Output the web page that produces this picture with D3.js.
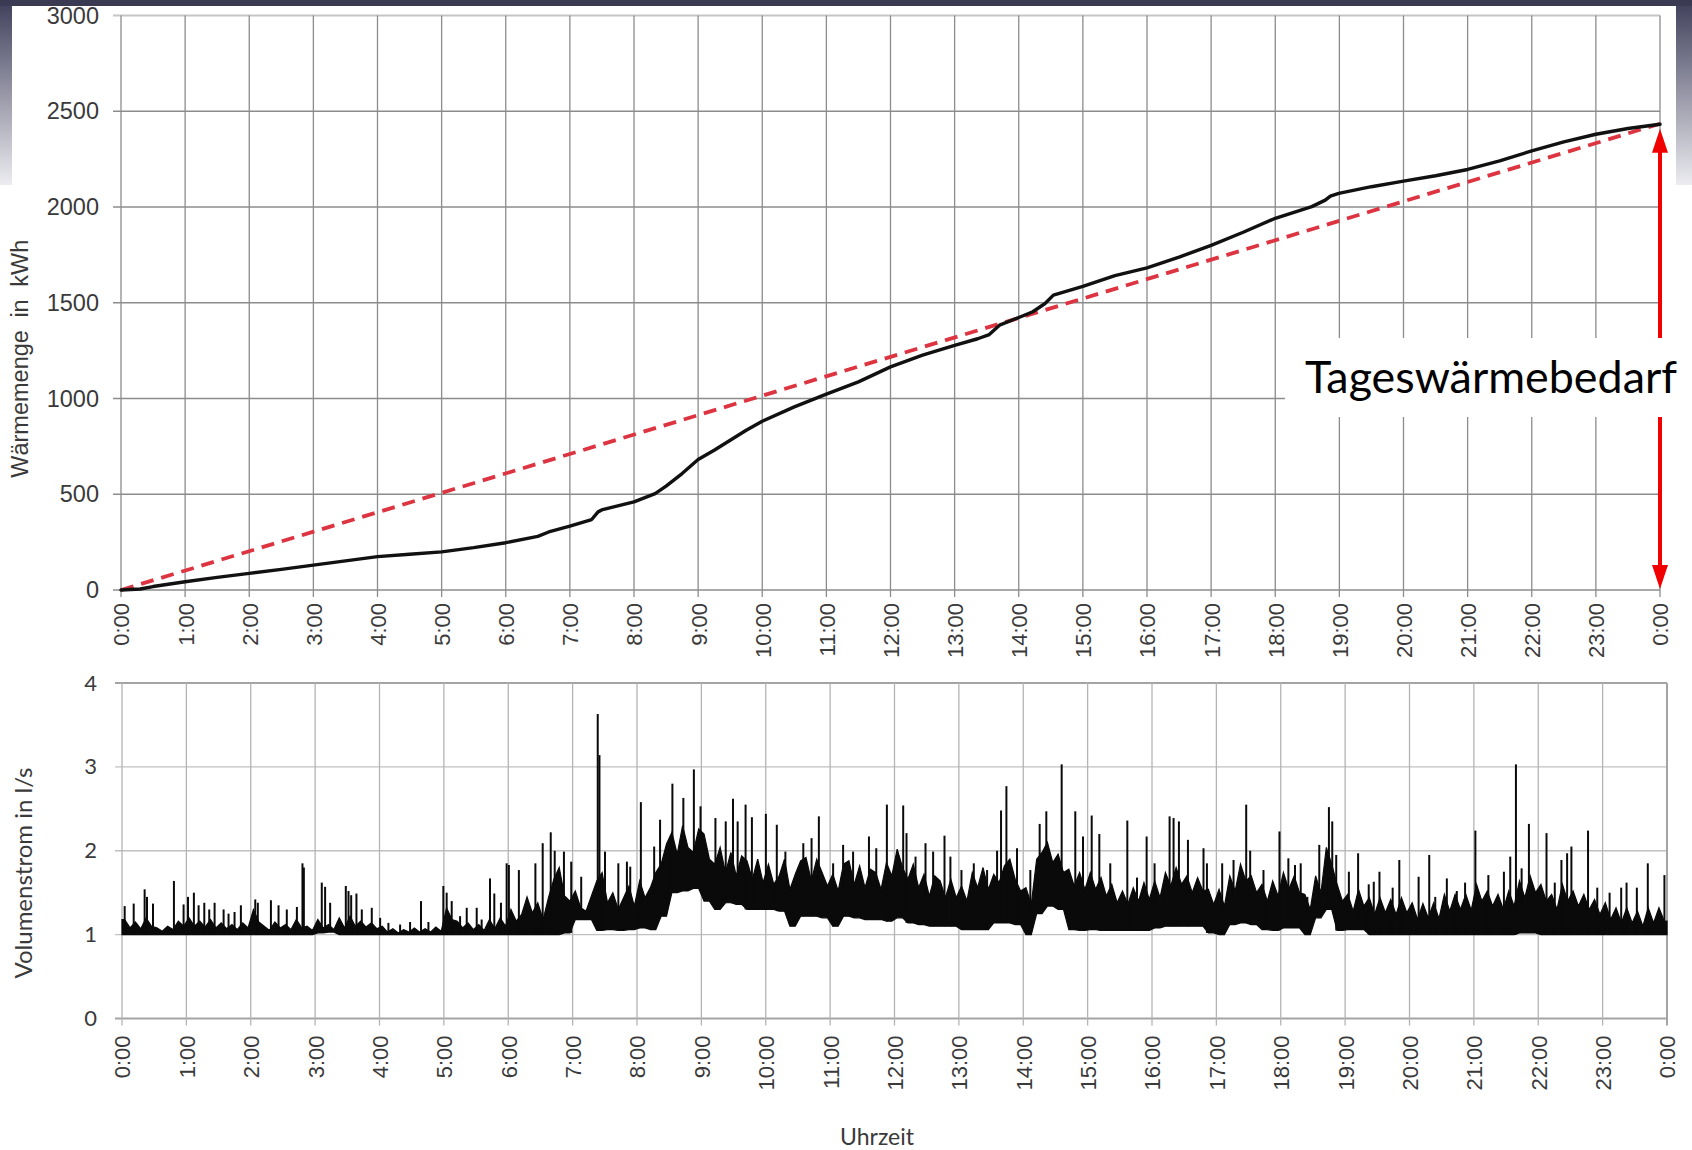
<!DOCTYPE html>
<html>
<head>
<meta charset="utf-8">
<script src="https://cdn.jsdelivr.net/npm/d3@7"></script>
<style>
  body { margin: 0; background: #fff; }
  svg { display: block; }
</style>
</head>
<body>
<svg id="chart" width="1692" height="1150"></svg>
<script>
// ---- Tick labels ----
const hourTicks = [0,1,2,3,4,5,6,7,8,9,10,11,12,13,14,15,16,17,18,19,20,21,22,23,24];
const hourLabels = ["0:00","1:00","2:00","3:00","4:00","5:00","6:00","7:00","8:00","9:00","10:00","11:00","12:00",
  "13:00","14:00","15:00","16:00","17:00","18:00","19:00","20:00","21:00","22:00","23:00","0:00"];
const heatTicks = [0,500,1000,1500,2000,2500,3000];
const heatLabels = ["0","500","1000","1500","2000","2500","3000"];
const flowTicks = [0,1,2,3,4];
const flowLabels = ["0","1","2","3","4"];

// ---- Cumulative heat quantity over the day (kWh) ----
const heatHours = [0,0.3,0.5,1,1.5,2,2.5,3,3.5,4,4.5,5,5.5,6,6.5,6.67,7,7.34,7.44,7.51,8,8.33,8.5,8.75,9,9.25,9.5,9.75,
  10,10.5,11,11.5,12,12.5,13,13.36,13.54,13.7,14.03,14.22,14.41,14.54,15,15.5,16,16.5,17,17.5,18,18.57,18.78,18.86,18.99,
  19.5,20,20.5,21,21.5,22,22.5,23,23.5,24];
const heatKWh = [0,5,18,43,66,87,108,130,152,174,187,199,221,247,280,303,333,368,408,420,460,503,542,608,681,730,782,834,
  881,956,1023,1087,1165,1226,1277,1312,1334,1383,1427,1453,1496,1540,1586,1642,1682,1738,1800,1868,1941,2002,2036,2057,2071,
  2106,2135,2163,2196,2241,2293,2340,2380,2410,2432];
// daily heat demand, spread evenly over 24 h
const dailyDemand = 2435;

// ---- Volume flow in l/s ----
// lower edge of the dense band, 10-minute bins
const flowMin = [
  1,1,1,1,1,1,1,1,1,1,1,1,
  1,1,1,1,1,1,1.02,1.03,1,1,1,1,
  1,1,1,1,1,1,1,1,1,1,1,1,
  1,1,1,1,1,1.02,1.18,1.18,1.05,1.06,1.05,1.06,
  1.08,1.06,1.22,1.5,1.52,1.55,1.4,1.3,1.38,1.36,1.3,1.3,
  1.3,1.28,1.1,1.22,1.22,1.2,1.1,1.22,1.2,1.18,1.18,1.16,
  1.2,1.14,1.12,1.1,1.1,1.1,1.06,1.06,1.06,1.14,1.14,1.12,
  1,1.25,1.34,1.3,1.06,1.05,1.06,1.05,1.05,1.05,1.05,1.05,
  1.08,1.1,1.1,1.1,1.1,1.02,1,1.12,1.14,1.12,1.06,1.05,
  1.08,1.08,1,1.2,1.3,1.05,1.06,1.06,1,1,1,1,
  1,1,1,1,1,1,1,1,1,1,1.02,1.02,
  1,1,1,1,1,1,1,1,1,1,1,1];
// upper edge of the dense band, 5-minute bins (one row per hour)
const flowUpper = [
  1.18,1.08,1.15,1.07,1.20,1.10,1.08,1.04,1.10,1.06,1.16,1.10,
  1.20,1.10,1.16,1.09,1.18,1.08,1.14,1.07,1.12,1.06,1.14,1.08,
  1.30,1.15,1.10,1.05,1.15,1.08,1.12,1.06,1.18,1.08,1.10,1.05,
  1.18,1.08,1.12,1.06,1.20,1.08,1.22,1.10,1.16,1.09,1.14,1.07,
  1.10,1.03,1.07,1.02,1.06,1.03,1.08,1.03,1.07,1.03,1.09,1.04,
  1.32,1.18,1.16,1.08,1.14,1.06,1.12,1.05,1.18,1.07,1.20,1.10,
  1.30,1.16,1.24,1.45,1.26,1.38,1.18,1.44,1.66,1.80,1.46,1.40,
  1.52,1.32,1.28,1.46,1.64,1.74,1.38,1.50,1.30,1.44,1.58,1.34,
  1.64,1.44,1.56,1.74,1.84,2.08,2.22,1.96,2.30,2.04,1.98,2.26,
  2.20,1.90,1.84,2.04,1.74,1.98,1.70,1.94,1.88,1.66,1.90,1.62,
  1.84,1.60,1.70,1.90,1.54,1.72,1.88,1.92,1.64,1.90,1.74,1.58,
  1.72,1.52,1.84,1.88,1.60,1.82,1.56,1.78,1.74,1.54,1.86,1.70,
  2.02,1.80,1.66,1.84,1.56,1.72,1.46,1.70,1.64,1.44,1.66,1.44,
  1.58,1.40,1.74,1.56,1.80,1.54,1.72,1.62,1.82,1.90,1.66,1.52,
  1.56,1.36,1.90,1.98,2.10,1.86,1.96,1.74,1.78,1.58,1.74,1.54,
  1.74,1.54,1.68,1.46,1.60,1.38,1.52,1.36,1.56,1.40,1.62,1.42,
  1.64,1.44,1.74,1.58,1.80,1.60,1.70,1.50,1.68,1.52,1.54,1.36,
  1.54,1.34,1.70,1.52,1.84,1.64,1.70,1.50,1.60,1.40,1.64,1.46,
  1.74,1.54,1.70,1.50,1.48,1.30,1.70,1.50,2.04,1.84,1.60,1.40,
  1.48,1.28,1.54,1.34,1.44,1.24,1.44,1.26,1.42,1.24,1.44,1.26,
  1.38,1.18,1.37,1.20,1.38,1.19,1.48,1.28,1.48,1.30,1.48,1.29,
  1.60,1.40,1.52,1.34,1.48,1.30,1.52,1.34,1.64,1.44,1.70,1.50,
  1.60,1.40,1.48,1.30,1.60,1.40,1.52,1.34,1.48,1.30,1.42,1.24,
  1.38,1.18,1.32,1.14,1.32,1.14,1.28,1.10,1.32,1.14,1.32,1.16];

// ---- Flow peaks: minute of day and peak value (l/s) ----
const spikeMinute = [
  2.5,10.9,21.1,23.3,28.9,48.4,57.4,61.5,67,71.4,76.7,81.3,86.3,94.7,99.3,104.9,110.8,124.2,126.6,138.8,145.9,153.6,
  163,168.2,169.5,186.2,189.3,194,208.6,211.1,213.6,218.5,223.5,232.8,240.6,248.3,259.2,268.5,278.7,285.6,299.5,302.6,
  307.3,315.1,321.3,330.6,335.2,343,347,353.2,358.5,
  360.6,369.9,385.3,392.1,399.6,403.3,411.9,418.7,428,443.4,445,450.2,462.6,470.6,473.7,483.6,496,501.5,513,523.2,533,
  539.2,553.1,562.7,569.5,573.8,581.2,587.1,600.1,610.3,618.3,635,642.7,649.5,662.8,672.1,681.4,696.2,703,712.9,
  728.1,731.2,739.6,748.9,756,766.6,772.1,782.4,793.9,806.3,815.6,819.3,824.3,834.2,846.6,855.3,861.5,875.8,888.5,895.7,
  903.8,910.9,921.1,937,946,955,962.4,976.4,980.1,985.1,993.5,1008,1011.2,1025.4,1036,1047.8,1051.5,1063.9,1078.8,
  1087.1,1093.3,1098.6,1104.8,1115.9,1124.9,1128,1131.7,1143.5,1152.1,1162,1166.7,1172,1184.3,1190.5,1208.5,1218.4,
  1224,1234.8,1244.1,1251.8,1261.4,1273.5,1288,1293.9,1299.2,1304.5,1311.3,1327.7,1335.4,1341.6,1346.9,1350.9,1366.4,
  1375,1386.5,1397.3,1402.3,1411.9,1422.1,1437.6];
const spikeValue = [
  1.34,1.37,1.54,1.45,1.37,1.64,1.36,1.45,1.5,1.35,1.38,1.3,1.38,1.3,1.25,1.27,1.35,1.42,1.38,1.41,1.35,1.3,
  1.33,1.85,1.8,1.62,1.57,1.38,1.58,1.52,1.47,1.49,1.3,1.32,1.2,1.14,1.12,1.15,1.4,1.15,1.58,1.5,
  1.4,1.22,1.32,1.32,1.18,1.67,1.49,1.38,1.85,
  1.83,1.77,1.85,2.09,2.22,2.0,1.99,1.87,1.69,3.63,3.14,1.99,1.85,1.87,1.81,2.58,2.05,2.37,2.8,2.63,2.97,
  2.53,2.39,2.35,2.62,2.35,2.55,2.4,2.44,2.31,1.99,2.09,2.15,2.41,1.85,2.07,1.99,2.17,2.03,2.55,
  2.54,2.21,1.93,2.09,1.99,2.18,1.93,1.77,1.85,1.77,2.0,2.48,2.77,2.03,1.77,2.32,2.47,3.03,2.47,2.17,
  2.42,2.2,1.85,2.36,1.68,2.17,1.85,2.41,2.39,2.35,2.13,2.03,1.85,1.85,1.89,2.55,2.0,1.77,2.23,
  1.91,1.83,1.85,1.45,2.07,2.52,2.35,1.95,1.75,1.97,1.6,1.63,1.75,1.56,1.89,1.69,1.95,
  1.45,1.67,1.52,1.62,2.24,1.71,1.75,1.93,3.03,1.79,2.32,2.21,1.62,1.89,1.97,2.05,2.24,
  1.56,1.5,1.56,1.62,1.56,1.85,1.71];

const annotationText = "Tageswärmebedarf";

// ---------------------------------------------------------------
const svg = d3.select("#chart");
const W = 1692;

// slide frame: dark top band and faded side strips
const defs = svg.append("defs");
const fade = defs.append("linearGradient").attr("id", "sideFade")
  .attr("x1", 0).attr("y1", 0).attr("x2", 0).attr("y2", 1);
fade.append("stop").attr("offset", 0).attr("stop-color", "#44445f");
fade.append("stop").attr("offset", 1).attr("stop-color", "#ececf1");
svg.append("rect").attr("x", 0).attr("y", 0).attr("width", W).attr("height", 6).attr("fill", "#3a3a52");
svg.append("rect").attr("x", 0).attr("y", 6).attr("width", 12).attr("height", 179).attr("fill", "url(#sideFade)");
svg.append("rect").attr("x", 1676).attr("y", 6).attr("width", 16).attr("height", 179).attr("fill", "url(#sideFade)");

const arial = "'Liberation Sans', Arial, sans-serif";
const calibri = "Lato, 'Open Sans', sans-serif";
const textCol = "#3a3a3a";

// ================= upper chart: heat quantity =================
const xH = d3.scaleLinear().domain([0, 24]).range([121, 1660]);
const yH = d3.scaleLinear().domain([0, 3000]).range([590, 15.5]);
const gTop = svg.append("g");

gTop.append("g").selectAll("line").data(heatTicks).join("line")
  .attr("x1", xH(0) - 8).attr("x2", xH(24))
  .attr("y1", d => yH(d)).attr("y2", d => yH(d))
  .attr("stroke", d => d === 3000 ? "#c6c6c6" : "#8c8c8c")
  .attr("stroke-width", d => d === 3000 ? 2.2 : 1.3);
gTop.append("g").selectAll("line").data(hourTicks).join("line")
  .attr("x1", d => xH(d)).attr("x2", d => xH(d))
  .attr("y1", yH(3000)).attr("y2", yH(0) + 7)
  .attr("stroke", "#8c8c8c").attr("stroke-width", 1.3);

const yAxisTop = gTop.append("g").attr("transform", `translate(${xH(0)},0)`)
  .call(d3.axisLeft(yH).tickValues(heatTicks).tickSize(0).tickPadding(22)
    .tickFormat((d, i) => heatLabels[i]));
yAxisTop.select(".domain").remove();
yAxisTop.selectAll("text").attr("font-family", arial).attr("font-size", 23.5).attr("fill", textCol);

const xAxisTop = gTop.append("g").attr("transform", `translate(0,${yH(0)})`)
  .call(d3.axisBottom(xH).tickValues(hourTicks).tickSize(0).tickFormat((d, i) => hourLabels[i]));
xAxisTop.select(".domain").remove();
xAxisTop.selectAll("text")
  .attr("transform", "rotate(-90)").attr("text-anchor", "end")
  .attr("x", -13).attr("y", 0).attr("dy", "0.36em")
  .attr("font-family", arial).attr("font-size", 22).attr("fill", textCol);

gTop.append("text")
  .attr("transform", `translate(22,${(yH(0) + yH(3000)) / 2 + 56}) rotate(-90)`)
  .attr("text-anchor", "middle").attr("dominant-baseline", "middle")
  .attr("font-family", arial).attr("font-size", 23.5).attr("fill", textCol)
  .attr("word-spacing", 6)
  .text("Wärmemenge in kWh");

// evenly spread demand (dashed) and measured cumulative heat
gTop.append("path")
  .datum([[0, 0], [24, dailyDemand]])
  .attr("d", d3.line().x(d => xH(d[0])).y(d => yH(d[1])))
  .attr("fill", "none").attr("stroke", "#dc3541").attr("stroke-width", 3.8)
  .attr("stroke-dasharray", "13,8");
gTop.append("path")
  .datum(heatHours.map((h, i) => [h, heatKWh[i]]))
  .attr("d", d3.line().x(d => xH(d[0])).y(d => yH(d[1])))
  .attr("fill", "none").attr("stroke", "#111").attr("stroke-width", 3.4)
  .attr("stroke-linejoin", "round").attr("stroke-linecap", "round");

// ================= lower chart: volume flow =================
const xF = d3.scaleLinear().domain([0, 24]).range([122, 1667]);
const yF = d3.scaleLinear().domain([0, 4]).range([1018.5, 683]);
const gBot = svg.append("g");

gBot.append("g").selectAll("line").data(flowTicks).join("line")
  .attr("x1", xF(0) - 7).attr("x2", xF(24))
  .attr("y1", d => yF(d)).attr("y2", d => yF(d))
  .attr("stroke", d => (d === 4 || d === 0) ? "#a4a4a4" : "#c0c0c0")
  .attr("stroke-width", d => (d === 4 || d === 0) ? 2 : 1.4);
gBot.append("g").selectAll("line").data(hourTicks).join("line")
  .attr("x1", d => xF(d)).attr("x2", d => xF(d))
  .attr("y1", yF(4)).attr("y2", yF(0) + 7)
  .attr("stroke", d => d === 24 ? "#a4a4a4" : "#b4b4b4")
  .attr("stroke-width", d => d === 24 ? 2 : 1.3);

const yAxisBot = gBot.append("g").attr("transform", `translate(${xF(0)},0)`)
  .call(d3.axisLeft(yF).tickValues(flowTicks).tickSize(0).tickPadding(25)
    .tickFormat((d, i) => flowLabels[i]));
yAxisBot.select(".domain").remove();
yAxisBot.selectAll("text").attr("font-family", calibri).attr("font-size", 22).attr("fill", textCol);

const xAxisBot = gBot.append("g").attr("transform", `translate(0,${yF(0)})`)
  .call(d3.axisBottom(xF).tickValues(hourTicks).tickSize(0).tickFormat((d, i) => hourLabels[i]));
xAxisBot.select(".domain").remove();
xAxisBot.selectAll("text")
  .attr("transform", "rotate(-90)").attr("text-anchor", "end")
  .attr("x", -17).attr("y", 0).attr("dy", "0.36em")
  .attr("font-family", arial).attr("font-size", 22).attr("fill", textCol);

gBot.append("text")
  .attr("transform", `translate(26,873) rotate(-90)`)
  .attr("text-anchor", "middle").attr("dominant-baseline", "middle")
  .attr("font-family", calibri).attr("font-size", 24).attr("fill", textCol)
  .text("Volumenstrom in l/s");
gBot.append("text")
  .attr("x", 877).attr("y", 1139)
  .attr("text-anchor", "middle").attr("dominant-baseline", "middle")
  .attr("font-family", calibri).attr("font-size", 23).attr("fill", textCol)
  .text("Uhrzeit");

// dense flow band: lower edge from 10-min bins, upper edge from 5-min bins
const bandPts = flowUpper.map((u, i) => ({ t: (i + 0.5) / 12, lo: flowMin[Math.floor(i / 2)], hi: u }));
bandPts.unshift({ t: 0, lo: flowMin[0], hi: flowUpper[0] });
bandPts.push({ t: 24, lo: flowMin[flowMin.length - 1], hi: flowUpper[flowUpper.length - 1] });
gBot.append("path").datum(bandPts)
  .attr("d", d3.area().x(d => xF(d.t)).y0(d => yF(d.lo)).y1(d => yF(d.hi)))
  .attr("fill", "#0a0a0a").attr("stroke", "#0a0a0a").attr("stroke-width", 1.2)
  .attr("stroke-linejoin", "miter");

// flow peaks
const peaks = spikeMinute.map((m, i) => ({
  t: m / 60, v: spikeValue[i], base: flowMin[Math.min(143, Math.floor(m / 10))]
}));
gBot.append("g").selectAll("line").data(peaks).join("line")
  .attr("x1", d => xF(d.t)).attr("x2", d => xF(d.t))
  .attr("y1", d => yF(d.base)).attr("y2", d => yF(d.v))
  .attr("stroke", "#0a0a0a").attr("stroke-width", 2);

// ================= annotation: daily heat demand =================
const ax = xH(24);
const tipTop = yH(dailyDemand) + 5;
const tipBot = yH(0) - 1;
const boxTop = 338, boxBot = 417;
const red = "#f00000";
const gAnn = svg.append("g");
gAnn.append("line").attr("x1", ax).attr("x2", ax).attr("y1", tipTop + 20).attr("y2", boxTop)
  .attr("stroke", red).attr("stroke-width", 4);
gAnn.append("line").attr("x1", ax).attr("x2", ax).attr("y1", boxBot).attr("y2", tipBot - 20)
  .attr("stroke", red).attr("stroke-width", 4);
gAnn.append("path")
  .attr("d", `M${ax},${tipTop} L${ax - 8},${tipTop + 24} L${ax + 8},${tipTop + 24} Z`).attr("fill", red);
gAnn.append("path")
  .attr("d", `M${ax},${tipBot} L${ax - 8},${tipBot - 24} L${ax + 8},${tipBot - 24} Z`).attr("fill", red);

gAnn.append("rect").attr("x", 1285).attr("y", boxTop).attr("width", W - 1285).attr("height", boxBot - boxTop)
  .attr("fill", "#fff");
const label = gAnn.append("text")
  .attr("x", 1305).attr("y", 393)
  .attr("font-family", calibri).attr("font-size", 46).attr("fill", "#000")
  .text(annotationText);
const wantW = 372;
const gotW = label.node().getComputedTextLength();
label.attr("font-size", 46 * wantW / gotW);
</script>
</body>
</html>
